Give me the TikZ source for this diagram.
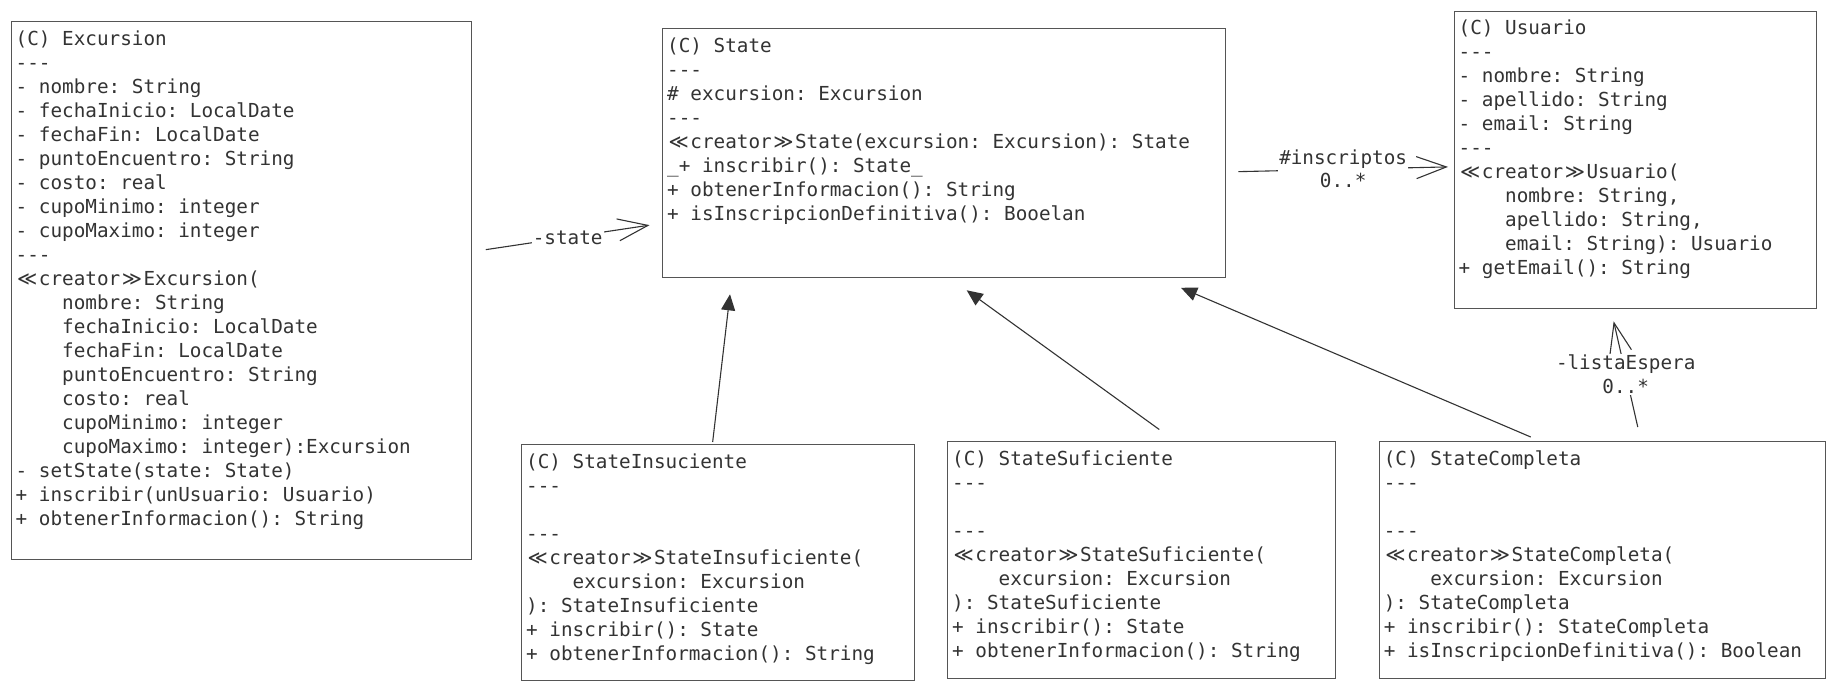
\documentclass[tikz,border=0pt]{standalone}
\usepackage{fontspec}
\setmonofont{DejaVu Sans Mono}
\newfontfamily\djs{DejaVu Sans}
\usetikzlibrary{arrows.meta,calc}
\definecolor{txtc}{HTML}{333333}
\definecolor{bordc}{HTML}{555555}
\newcommand{\LL}{\makebox[1.204em]{\djs ≪}}
\newcommand{\GG}{\makebox[1.204em]{\djs ≫}}
\newcommand{\ind}{\hphantom{0000}}
\begin{document}
\begin{tikzpicture}[x=1pt,y=-1pt,
  umlbox/.style={draw=bordc, line width=1.3pt, rectangle, anchor=north west, inner sep=0pt},
  umltxt/.style={anchor=north west, inner sep=0pt, align=left, text=txtc, font=\fontsize{19.3}{24}\selectfont\ttfamily},
  lbl/.style={fill=white, inner sep=1pt, align=center, text=txtc, font=\fontsize{19.3}{23}\selectfont\ttfamily},
  assoc/.style={draw=txtc, line width=1.1pt, -{Straight Barb[length=30pt,width=22pt,line width=1.1pt]}},
  inherit/.style={draw=txtc, line width=1.1pt, -{Triangle[length=16pt,width=14pt]}},
]
\useasboundingbox[fill=white] (0,0) rectangle (1835,691);

% boxes
\node[umlbox, minimum width=460pt, minimum height=538pt] (exc) at (10.5,21) {};
\node[umlbox, minimum width=563pt, minimum height=249pt] (st) at (662,28) {};
\node[umlbox, minimum width=362.5pt, minimum height=297.5pt] (us) at (1453.5,10.5) {};
\node[umlbox, minimum width=393pt, minimum height=236.5pt] (ins) at (521,443.5) {};
\node[umlbox, minimum width=388pt, minimum height=237pt] (suf) at (947,441) {};
\node[umlbox, minimum width=446pt, minimum height=237pt] (cmp) at (1378.6,441) {};

% texts
\node[umltxt] (excT) at ($(exc.north west)+(5,7.8)$) {\strut(C) Excursion\\
---\\
- nombre: String\\
- fechaInicio: LocalDate\\
- fechaFin: LocalDate\\
- puntoEncuentro: String\\
- costo: real\\
- cupoMinimo: integer\\
- cupoMaximo: integer\\
---\\
\LL creator\GG Excursion(\\
\ind nombre: String\\
\ind fechaInicio: LocalDate\\
\ind fechaFin: LocalDate\\
\ind puntoEncuentro: String\\
\ind costo: real\\
\ind cupoMinimo: integer\\
\ind cupoMaximo: integer):Excursion\\
- setState(state: State)\\
+ inscribir(unUsuario: Usuario)\\
+ obtenerInformacion(): String};

\node[umltxt] (stT) at ($(st.north west)+(5,7.8)$) {\strut(C) State\\
---\\
\# excursion: Excursion\\
---\\
\LL creator\GG State(excursion: Excursion): State\\
\_+ inscribir(): State\_\\
+ obtenerInformacion(): String\\
+ isInscripcionDefinitiva(): Booelan};

\node[umltxt] (usT) at ($(us.north west)+(5,6.6)$) {\strut(C) Usuario\\
---\\
- nombre: String\\
- apellido: String\\
- email: String\\
---\\
\LL creator\GG Usuario(\\
\ind nombre: String,\\
\ind apellido: String,\\
\ind email: String): Usuario\\
+ getEmail(): String};

\node[umltxt] (insT) at ($(ins.north west)+(5,7.8)$) {\strut(C) StateInsuciente\\
---\\
\strut\\
---\\
\LL creator\GG StateInsuficiente(\\
\ind excursion: Excursion\\
): StateInsuficiente\\
+ inscribir(): State\\
+ obtenerInformacion(): String};

\node[umltxt] (sufT) at ($(suf.north west)+(5,7.8)$) {\strut(C) StateSuficiente\\
---\\
\strut\\
---\\
\LL creator\GG StateSuficiente(\\
\ind excursion: Excursion\\
): StateSuficiente\\
+ inscribir(): State\\
+ obtenerInformacion(): String};

\node[umltxt] (cmpT) at ($(cmp.north west)+(5,7.8)$) {\strut(C) StateCompleta\\
---\\
\strut\\
---\\
\LL creator\GG StateCompleta(\\
\ind excursion: Excursion\\
): StateCompleta\\
+ inscribir(): StateCompleta\\
+ isInscripcionDefinitiva(): Boolean};

% associations
\draw[assoc] ($(exc.east)+(14,-41)$) -- node[lbl, pos=0.5] (lstate) {-state} ($(st.west)+(-12.5,72)$);
\draw[assoc] ($(st.east)+(12,18.5)$) -- node[lbl, pos=0.5] (linsc) {\#inscriptos\\0..*} ($(us.west)+(-5.5,7)$);
\draw[assoc] ($(cmp.north)+(35.5,-14)$) -- node[lbl, pos=0.5, font=\fontsize{19.3}{24}\selectfont\ttfamily] (lespera) {-listaEspera\\0..*} ($(us.south)+(-21.75,12)$);

% inheritance
\draw[inherit] ($(ins.north)+(-5.5,-1.5)$) -- ($(st.south west)+(68,16)$);
\draw[inherit] ($(suf.north)+(17.6,-11.5)$) -- ($(st.south west)+(304.7,12)$);
\draw[inherit] ($(cmp.north)+(-71.5,-4)$) -- ($(st.south west)+(519,9.5)$);
\end{tikzpicture}
\end{document}
